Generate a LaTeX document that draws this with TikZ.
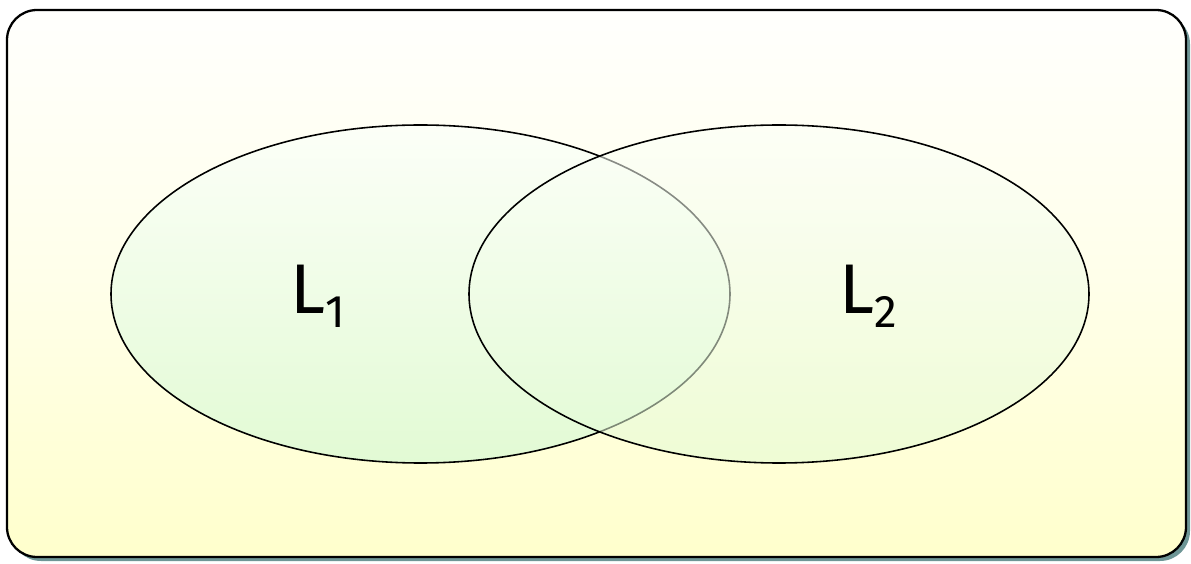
\documentclass[tikz,border=0pt]{standalone}
\usepackage{fontspec}
\setmainfont{Fira Sans}
\usetikzlibrary{shadings}
\definecolor{bgtop}{RGB}{255,255,253}
\definecolor{bgbot}{RGB}{255,255,204}
\definecolor{eltop}{RGB}{252,255,248}
\definecolor{elbot}{RGB}{226,250,212}
\definecolor{shadowc}{RGB}{110,150,150}
\newlength{\unitpx}
\setlength{\unitpx}{0.02cm}
\newcommand{\lsub}[1]{{\fontsize{26}{30}\selectfont\raisebox{-0.3em}{#1}}}
\tikzset{
  frame/.style={rounded corners=30\unitpx, line width=1.3pt},
  setel/.style={line width=0.9pt, top color=eltop, bottom color=elbot},
  lab/.style={font=\fontsize{40}{48}\selectfont}
}
\begin{document}
\begin{tikzpicture}[x=0.02cm,y=-0.02cm]
\useasboundingbox (0,0) rectangle (1191,564);
% shadow
\fill[shadowc, rounded corners=30\unitpx] (11,14) rectangle (1190,561);
% frame
\draw[frame, top color=bgtop, bottom color=bgbot, middle color=bgtop!60!bgbot] (7,10) rectangle (1186,557);
% ellipses
\path[setel, draw=black] (420.5,294) ellipse [x radius=309.5, y radius=169];
\node[inner sep=0pt] (s1) at (420.5,294) {};
\path[setel, draw=black, fill opacity=0.55] (779,294) ellipse [x radius=310, y radius=169];
\node[inner sep=0pt] (s2) at (779,294) {};
% labels
\node[lab] (l1) at (318,296) {L\lsub{1}};
\node[lab] (l2) at (868,296) {L\lsub{2}};
\end{tikzpicture}
\end{document}
